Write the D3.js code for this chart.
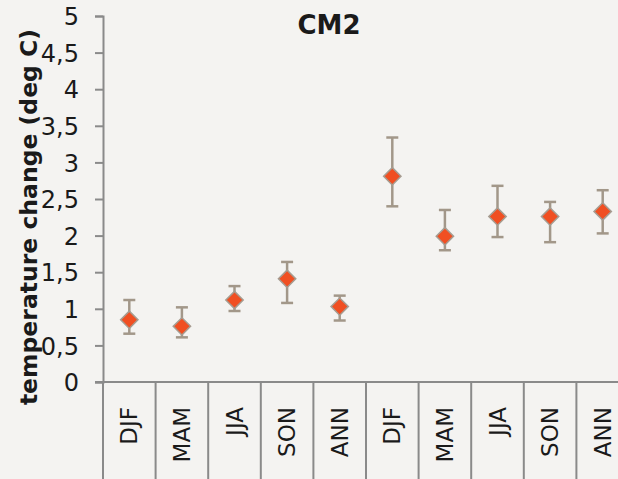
<!DOCTYPE html>
<html>
<head>
<meta charset="utf-8">
<script src="https://cdn.jsdelivr.net/npm/d3@7"></script>
<style>
	body { margin: 0; background: #f4f3f1; overflow: hidden; }
	svg text { font-family: "DejaVu Sans", Verdana, sans-serif; }
</style>
</head>
<body>
<div id="chart"></div>
<script>

// season labels along the x axis (two groups of five)
var seasons = ["DJF", "MAM", "JJA", "SON", "ANN", "DJF", "MAM", "JJA", "SON", "ANN"];
// mean temperature change, deg C
var values = [0.85, 0.76, 1.12, 1.41, 1.03, 2.81, 1.99, 2.26, 2.26, 2.33];
// top and bottom of the error bars
var err_high = [1.12, 1.02, 1.31, 1.64, 1.18, 3.34, 2.35, 2.68, 2.46, 2.62];
var err_low = [0.66, 0.61, 0.97, 1.08, 0.84, 2.40, 1.80, 1.98, 1.91, 2.03];
// y tick values and their labels (comma decimals)
var y_ticks = [0, 0.5, 1, 1.5, 2, 2.5, 3, 3.5, 4, 4.5, 5];
var y_tick_labels = ["0", "0,5", "1", "1,5", "2", "2,5", "3", "3,5", "4", "4,5", "5"];

var chart_title = "CM2";
var y_title = "temperature change (deg C)";

function render_chart(){
	var width = 618, height = 479;
	var axis_color = "#8a8a8a";
	var bar_color = "#a29789";

	var svg = d3.select("#chart")
				.append("svg")
				.attr("width", width)
				.attr("height", height);

	svg.append("rect")
		.attr("width", width)
		.attr("height", height)
		.attr("fill", "#f4f3f1");

	// the plot runs past the right edge of the window, like the original
	var x = d3.scaleBand()
			  .domain(d3.range(seasons.length))
			  .range([103, 629])
			  .padding(0);
	var y = d3.scaleLinear().domain([0, 5]).range([382, 16]);

	// Y axis
	var y_axis = d3.axisLeft(y)
				   .tickValues(y_ticks)
				   .tickSize(8)
				   .tickPadding(16)
				   .tickFormat(function(d, i){ return y_tick_labels[i]; });
	var gy = svg.append("g")
				.attr("transform", "translate(103,0)")
				.call(y_axis)
				.attr("font-family", null)
				.attr("font-size", null);
	gy.select(".domain").attr("stroke", axis_color).attr("stroke-width", 2);
	gy.selectAll(".tick line").attr("stroke", axis_color).attr("stroke-width", 2);
	gy.selectAll(".tick text")
		.attr("fill", "#1a1a1a")
		.attr("dy", "0.36em")
		.style("font-size", "24px");

	// X axis line plus the category separators hanging below it
	svg.append("line")
		.attr("x1", 95).attr("x2", width)
		.attr("y1", y(0)).attr("y2", y(0))
		.attr("stroke", axis_color).attr("stroke-width", 2);

	var bounds = d3.range(seasons.length + 1);
	svg.selectAll(".sep")
		.data(bounds)
		.enter().append("line")
		.attr("class", "sep")
		.attr("x1", function(d){ return d < seasons.length ? x(d) : x(d - 1) + x.bandwidth(); })
		.attr("x2", function(d){ return d < seasons.length ? x(d) : x(d - 1) + x.bandwidth(); })
		.attr("y1", y(0))
		.attr("y2", height)
		.attr("stroke", axis_color)
		.attr("stroke-width", 2);

	// category labels, rotated
	svg.selectAll(".cat")
		.data(seasons)
		.enter().append("text")
		.attr("class", "cat")
		.attr("transform", function(d, i){
			return "translate(" + (x(i) + x.bandwidth() / 2) + ",407) rotate(-90)";
		})
		.attr("text-anchor", "end")
		.attr("dominant-baseline", "central")
		.attr("fill", "#1a1a1a")
		.style("font-size", "23px")
		.text(function(d){ return d; });

	// error bars
	var bars = svg.selectAll(".err")
				  .data(values)
				  .enter().append("g")
				  .attr("class", "err")
				  .attr("stroke", bar_color)
				  .attr("stroke-width", 2.5);
	bars.append("line")
		.attr("x1", function(d, i){ return x(i) + x.bandwidth() / 2; })
		.attr("x2", function(d, i){ return x(i) + x.bandwidth() / 2; })
		.attr("y1", function(d, i){ return y(err_low[i]); })
		.attr("y2", function(d, i){ return y(err_high[i]); });
	bars.append("line")
		.attr("x1", function(d, i){ return x(i) + x.bandwidth() / 2 - 6; })
		.attr("x2", function(d, i){ return x(i) + x.bandwidth() / 2 + 6; })
		.attr("y1", function(d, i){ return y(err_high[i]); })
		.attr("y2", function(d, i){ return y(err_high[i]); });
	bars.append("line")
		.attr("x1", function(d, i){ return x(i) + x.bandwidth() / 2 - 6; })
		.attr("x2", function(d, i){ return x(i) + x.bandwidth() / 2 + 6; })
		.attr("y1", function(d, i){ return y(err_low[i]); })
		.attr("y2", function(d, i){ return y(err_low[i]); });

	// diamond markers (a square turned 45 degrees)
	var diamond = d3.symbol().type(d3.symbolSquare).size(150);
	svg.selectAll(".dot")
		.data(values)
		.enter().append("path")
		.attr("class", "dot")
		.attr("d", diamond)
		.attr("transform", function(d, i){
			return "translate(" + (x(i) + x.bandwidth() / 2) + "," + y(d) + ") rotate(45)";
		})
		.attr("fill", "#f04f22")
		.attr("stroke", "#a69c91")
		.attr("stroke-width", 1.5);

	// titles
	svg.append("text")
		.attr("x", 329)
		.attr("y", 34)
		.attr("text-anchor", "middle")
		.attr("fill", "#1a1a1a")
		.style("font-size", "26px")
		.style("font-weight", "bold")
		.text(chart_title);

	svg.append("text")
		.attr("transform", "translate(29,217) rotate(-90)")
		.attr("text-anchor", "middle")
		.attr("dominant-baseline", "central")
		.attr("fill", "#1a1a1a")
		.style("font-size", "23.5px")
		.style("font-weight", "bold")
		.text(y_title);
}

window.onload = render_chart;

</script>
</body>
</html>
